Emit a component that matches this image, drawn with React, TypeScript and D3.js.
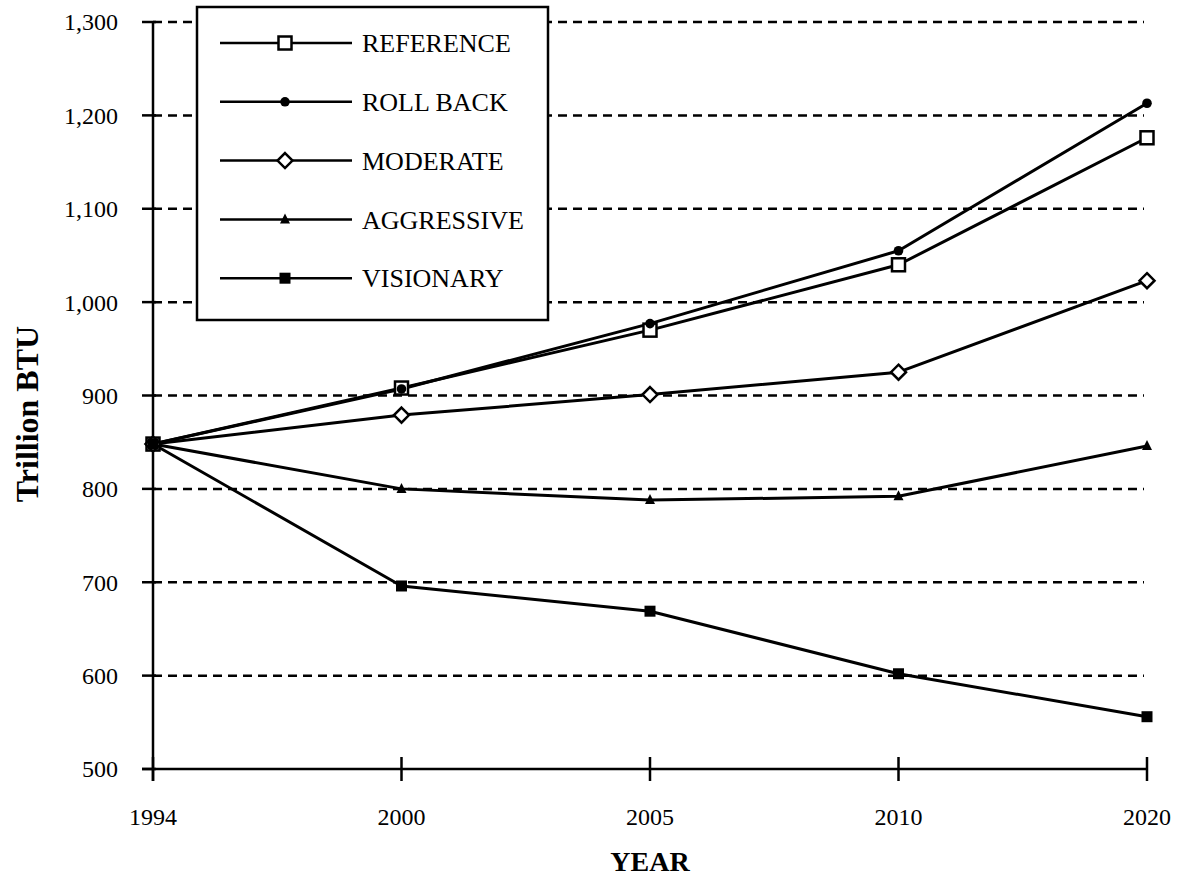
import * as d3 from "d3";

const YEARS = ["1994", "2000", "2005", "2010", "2020"];
const Y_TICKS = [500, 600, 700, 800, 900, 1000, 1100, 1200, 1300];

const SERIES_NAMES = ["REFERENCE", "ROLL BACK", "MODERATE", "AGGRESSIVE", "VISIONARY"];
const REFERENCE = [848, 908, 970, 1040, 1176];
const ROLL_BACK = [848, 907, 977, 1055, 1213];
const MODERATE = [848, 879, 901, 925, 1023];
const AGGRESSIVE = [848, 800, 788, 792, 846];
const VISIONARY = [848, 696, 669, 602, 556];

const VALUES = [REFERENCE, ROLL_BACK, MODERATE, AGGRESSIVE, VISIONARY];
const MARKERS = ["openSquare", "dot", "diamond", "triangle", "square"];

const W = 1178;
const H = 877;
const FONT = "'Liberation Serif', 'Times New Roman', serif";

function Marker({ kind, x, y }: { kind: string; x: number; y: number }) {
  switch (kind) {
    case "openSquare":
      return <rect x={x - 6.5} y={y - 6.5} width={13} height={13} fill="#fff" stroke="#000" strokeWidth={2.5} />;
    case "dot":
      return <circle cx={x} cy={y} r={4.8} fill="#000" />;
    case "diamond":
      return (
        <path
          d={`M${x},${y - 7.5}L${x + 7.5},${y}L${x},${y + 7.5}L${x - 7.5},${y}Z`}
          fill="#fff"
          stroke="#000"
          strokeWidth={2.5}
        />
      );
    case "triangle":
      return <path d={`M${x},${y - 6}L${x + 5},${y + 4}L${x - 5},${y + 4}Z`} fill="#000" />;
    default:
      return <rect x={x - 5.5} y={y - 5.5} width={11} height={11} fill="#000" />;
  }
}

export default function App() {
  const m = { left: 153, right: 31, top: 22, bottom: 108 };
  const x = d3.scalePoint<string>().domain(YEARS).range([m.left, W - m.right]);
  const y = d3.scaleLinear().domain([500, 1300]).range([H - m.bottom, m.top]);
  const line = d3
    .line<number>()
    .x((_, i) => x(YEARS[i])!)
    .y((d) => y(d));

  const x0 = x(YEARS[0])!;
  const x1 = x(YEARS[YEARS.length - 1])!;
  const yBase = y(500);

  // legend
  const lg = { x: 197, y: 7, w: 351, h: 313 };
  const rowY = (i: number) => 43 + i * 58.8;

  return (
    <svg width={W} height={H} style={{ position: "absolute", left: 0, top: 0, background: "#fff" }} fontFamily={FONT}>
      {/* grid */}
      {Y_TICKS.filter((t) => t > 500).map((t) => (
        <line key={t} x1={x0} x2={x1 - 3} y1={y(t)} y2={y(t)} stroke="#000" strokeWidth={2.5} strokeDasharray="9 6" />
      ))}

      {/* y axis */}
      <line x1={x0} x2={x0} y1={y(1300)} y2={yBase + 12} stroke="#000" strokeWidth={2.5} />
      {Y_TICKS.map((t) => (
        <g key={t}>
          <line x1={x0 - 11} x2={x0 + 3} y1={y(t)} y2={y(t)} stroke="#000" strokeWidth={2.5} />
          <text x={118} y={y(t)} dy="0.35em" textAnchor="end" fontSize={24}>
            {d3.format(",")(t)}
          </text>
        </g>
      ))}

      {/* x axis */}
      <line x1={x0 - 11} x2={x1} y1={yBase} y2={yBase} stroke="#000" strokeWidth={2.5} />
      {YEARS.map((yr) => (
        <g key={yr}>
          <line x1={x(yr)!} x2={x(yr)!} y1={yBase - 12} y2={yBase + 12} stroke="#000" strokeWidth={2.5} />
          <text x={x(yr)!} y={817} dy="0.35em" textAnchor="middle" fontSize={24}>
            {yr}
          </text>
        </g>
      ))}

      <text x={(x0 + x1) / 2} y={861} dy="0.35em" textAnchor="middle" fontSize={28} fontWeight="bold">
        YEAR
      </text>
      <text
        transform={`translate(27,414) rotate(-90)`}
        dy="0.35em"
        textAnchor="middle"
        fontSize={32}
        fontWeight="bold"
      >
        Trillion BTU
      </text>

      {/* series, drawn bottom to top */}
      {VALUES.map((vals, s) => (
        <path key={s} d={line(vals)!} fill="none" stroke="#000" strokeWidth={3} strokeLinejoin="round" />
      ))}
      {VALUES.map((vals, s) =>
        vals.map((v, i) => <Marker key={`${s}-${i}`} kind={MARKERS[s]} x={x(YEARS[i])!} y={y(v)} />)
      )}

      {/* legend */}
      <rect x={lg.x} y={lg.y} width={lg.w} height={lg.h} fill="#fff" stroke="#000" strokeWidth={2.5} />
      {SERIES_NAMES.map((name, i) => (
        <g key={name}>
          <line x1={220} x2={352} y1={rowY(i)} y2={rowY(i)} stroke="#000" strokeWidth={2.5} />
          <Marker kind={MARKERS[i]} x={285} y={rowY(i)} />
          <text x={362} y={rowY(i)} dy="0.35em" fontSize={26}>
            {name}
          </text>
        </g>
      ))}
    </svg>
  );
}
